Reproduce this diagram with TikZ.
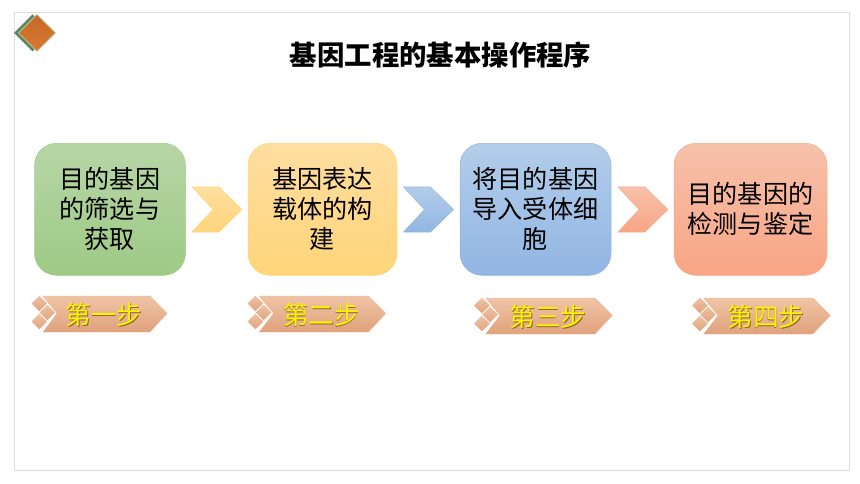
\documentclass[tikz,border=0pt]{standalone}
\usepackage{fontspec}
\newfontfamily\cjk{Noto Sans CJK SC}
\definecolor{framegray}{HTML}{DEDEDE}
\definecolor{bannertop}{HTML}{F0C4A6}
\definecolor{bannerbot}{HTML}{E0A27C}
\definecolor{bannermid}{HTML}{EAB594}
\definecolor{iconback}{HTML}{608660}
\definecolor{iconmid}{HTML}{AFCDA0}
\definecolor{icontop}{HTML}{C8682A}
\definecolor{iconbot}{HTML}{D87A30}
\definecolor{gt}{HTML}{B7D6A7}\definecolor{gb}{HTML}{9ECA85}\definecolor{gd}{HTML}{A5CD8C}
\definecolor{yt}{HTML}{FFDEA0}\definecolor{yb}{HTML}{FFD47A}\definecolor{yd}{HTML}{FFD678}
\definecolor{bt}{HTML}{B3CDEA}\definecolor{bb}{HTML}{91B6E2}\definecolor{bd}{HTML}{91B6E2}
\definecolor{rt}{HTML}{F7C1AA}\definecolor{rb}{HTML}{F8A585}\definecolor{rd}{HTML}{F8AA8C}
\definecolor{labelshadow}{HTML}{8A6A30}
\tikzset{
  stepbox/.style={line width=0.5pt,rounded corners=22pt,minimum height=132pt,align=center,font=\cjk\fontsize{25.1}{30}\selectfont,text=black,inner sep=0pt},
  steplabel/.style={font=\cjk\fontsize{25.6}{30}\selectfont,text=yellow,inner sep=0pt},
  stepshadow/.style={font=\cjk\fontsize{25.6}{30}\selectfont,text=labelshadow,inner sep=0pt},
}
\newcommand{\chevron}[4]{%
  \shadedraw[top color=#2,bottom color=#3,draw=#4,line width=0.5pt] (#1,187)--(#1+27,187)--(#1+50,209.5)--(#1+27,232)--(#1,232)--(#1+21,209.5)--cycle;
}
\newcommand{\banner}[5]{%
  \begin{scope}[shift={(#1,#2)},xscale=#5]
    \shadedraw[top color=bannertop,bottom color=bannerbot,draw=bannermid,line width=0.4pt] (12,0)--(119,0)--(136,17.5)--(119,36)--(12,36)--(26,17.5)--cycle;
    \foreach \cx/\cy in {8.3/7.5,8.3/25.5,16.3/16.5}{
      \shadedraw[top color=bannertop,bottom color=bannerbot,draw=white,line width=0.6pt] (\cx-8.4,\cy)--(\cx,\cy-8.4)--(\cx+8.4,\cy)--(\cx,\cy+8.4)--cycle;
    }
    \node[stepshadow] (#4s) at (73.7,19.7) {#3};
    \node[steplabel] (#4t) at (73,19) {#3};
  \end{scope}
}
\begin{document}
\begin{tikzpicture}[x=1pt,y=-1pt]
\useasboundingbox (0,0) rectangle (860,484);
\fill[white] (0,0) rectangle (860,484);
\draw[framegray,line width=0.8pt] (14.5,12) rectangle (849.5,470.5);
% corner icon
\fill[iconback] (14,33)--(32.5,14.5)--(51,33)--(32.5,51.5)--cycle;
\fill[iconmid] (18,33)--(37,14)--(56,33)--(37,52)--cycle;
\shadedraw[top color=icontop,bottom color=iconbot,draw=iconbot,line width=0.3pt] (19.5,33)--(37,15.5)--(54.5,33)--(37,50.5)--cycle;
% title
\node[font=\cjk\bfseries\fontsize{27.4}{32}\selectfont,inner sep=0pt] (title) at (440.5,55) {基因工程的基本操作程序};
% boxes
\node[stepbox,minimum width=151pt,top color=gt,bottom color=gb,draw=gd] (b1) at (110,209.3) {目的基因\\的筛选与\\获取};
\node[stepbox,minimum width=149pt,top color=yt,bottom color=yb,draw=yd] (b2) at (322.5,209.3) {基因表达\\载体的构\\建};
\node[stepbox,minimum width=151pt,top color=bt,bottom color=bb,draw=bd] (b3) at (535.5,209.3) {将目的基因\\导入受体细\\胞};
\node[stepbox,minimum width=153pt,top color=rt,bottom color=rb,draw=rd] (b4) at (750.5,209.3) {目的基因的\\检测与鉴定};
% chevrons
\chevron{192}{yt}{yb}{yd}
\chevron{403.5}{bt}{bb}{bd}
\chevron{618}{rt}{rb}{rd}
% banners
\banner{31}{296}{第一步}{sa}{1}
\banner{247}{296}{第二步}{sb}{1.02}
\banner{473.5}{298}{第三步}{sc}{1.02}
\banner{691.5}{298}{第四步}{sd}{1.02}
\end{tikzpicture}
\end{document}
